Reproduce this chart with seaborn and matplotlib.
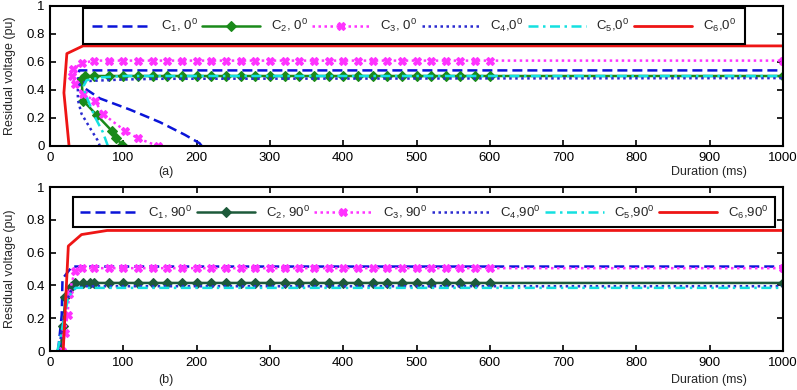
import matplotlib.pyplot as plt
import matplotlib.ticker as mticker
import seaborn as sns

# ---- data (duration in ms, residual voltage in pu) ----
grid = [60, 80, 100, 120, 140, 160, 180, 200, 220, 240, 260, 280, 300, 320,
        340, 360, 380, 400, 420, 440, 460, 480, 500, 520, 540, 560, 580, 600]

# (a) point-on-wave 0 deg
c1_0_x = [207, 204, 184, 150, 109, 68, 48, 40, 38, 40, 1000]
c1_0_y = [0.0, 0.02, 0.08, 0.17, 0.26, 0.34, 0.41, 0.445, 0.50, 0.54, 0.54]

c2_0_x = [98, 90, 84, 64, 45, 43, 48] + grid + [1000]
c2_0_y = [0.01, 0.06, 0.11, 0.22, 0.325, 0.48, 0.50,
          0.50, 0.50, 0.50, 0.50, 0.50, 0.50, 0.50, 0.50, 0.50, 0.50,
          0.50, 0.50, 0.50, 0.50, 0.50, 0.50, 0.50, 0.50, 0.50, 0.50,
          0.50, 0.50, 0.50, 0.50, 0.50, 0.50, 0.50, 0.50, 0.50]

c3_0_x = [147, 120, 102, 72, 61, 45, 34, 30, 32, 43] + grid + [1000]
c3_0_y = [0.0, 0.055, 0.11, 0.23, 0.325, 0.37, 0.445, 0.50, 0.55, 0.59,
          0.61, 0.61, 0.61, 0.61, 0.61, 0.61, 0.61, 0.61, 0.61, 0.61,
          0.61, 0.61, 0.61, 0.61, 0.61, 0.61, 0.61, 0.61, 0.61, 0.61,
          0.61, 0.61, 0.61, 0.61, 0.61, 0.61, 0.61, 0.61, 0.61]

c4_0_x = [68, 65, 55, 43, 38, 38, 42, 55, 100, 150, 1000]
c4_0_y = [0.0, 0.04, 0.125, 0.23, 0.33, 0.42, 0.45, 0.465, 0.475, 0.48, 0.485]

c5_0_x = [79, 72, 61, 48, 46, 50, 70, 100, 1000]
c5_0_y = [0.0, 0.10, 0.21, 0.375, 0.43, 0.47, 0.49, 0.50, 0.50]

c6_0_x = [26, 19, 23, 45, 1000]
c6_0_y = [0.0, 0.38, 0.66, 0.715, 0.715]

# (b) point-on-wave 90 deg
c1_90_x = [11, 16, 17, 18, 30, 1000]
c1_90_y = [0.0, 0.22, 0.43, 0.445, 0.515, 0.515]

c2_90_x = [14, 18, 21, 28, 34, 45, 55] + grid + [1000]
c2_90_y = [0.0, 0.15, 0.33, 0.39, 0.415, 0.415, 0.415,
           0.415, 0.415, 0.415, 0.415, 0.415, 0.415, 0.415, 0.415, 0.415, 0.415,
           0.415, 0.415, 0.415, 0.415, 0.415, 0.415, 0.415, 0.415, 0.415, 0.415,
           0.415, 0.415, 0.415, 0.415, 0.415, 0.415, 0.415, 0.415, 0.415]

c3_90_x = [17, 20, 24, 26, 34, 44] + grid + [1000]
c3_90_y = [0.0, 0.11, 0.22, 0.35, 0.49, 0.505,
           0.505, 0.505, 0.505, 0.505, 0.505, 0.505, 0.505, 0.505, 0.505, 0.505,
           0.505, 0.505, 0.505, 0.505, 0.505, 0.505, 0.505, 0.505, 0.505, 0.505,
           0.505, 0.505, 0.505, 0.505, 0.505, 0.505, 0.505, 0.505, 0.505]

c4_90_x = [12, 16, 22, 30, 50, 1000]
c4_90_y = [0.0, 0.12, 0.30, 0.38, 0.395, 0.395]

c5_90_x = [10, 15, 25, 35, 1000]
c5_90_y = [0.0, 0.10, 0.33, 0.385, 0.385]

c6_90_x = [18, 25, 43, 78, 1000]
c6_90_y = [0.0, 0.64, 0.71, 0.735, 0.735]

x_ticks = [0, 100, 200, 300, 400, 500, 600, 700, 800, 900, 1000]
y_ticks = [0, 0.2, 0.4, 0.6, 0.8, 1.0]

# ---- style ----
sns.set_style("ticks")
plt.rcParams["font.family"] = ["Liberation Sans", "DejaVu Sans"]
plt.rcParams["mathtext.fontset"] = "custom"
plt.rcParams["mathtext.rm"] = "Liberation Sans"

BLUE = "#0a14d8"
GREEN0 = "#1a8a1a"
GREEN90 = "#1d5a3a"
MAGENTA = "#ff33ff"
NAVY = "#2a2ad0"
CYAN = "#14e0e0"
RED = "#ee1515"


def lab(i, ang, space=True):
    sep = ", " if space else ","
    return r"C$_\mathregular{%d}$%s%s$^\mathregular{0}$" % (i, sep, ang)


def draw(ax, xs, ys, label, color, ls, lw=1.8, marker=None, ms=5):
    kw = dict(marker=marker, markersize=ms, mec=color, mfc=color, mew=0.8) if marker else {}
    sns.lineplot(x=xs, y=ys, ax=ax, sort=False, estimator=None, color=color,
                 linestyle=ls, lw=lw, label=label, **kw)


fig = plt.figure(figsize=(7.97, 3.9), dpi=100)
W, H = 797, 390
ax_a = fig.add_axes([50 / W, 1 - 146 / H, 733 / W, 140 / H])
ax_b = fig.add_axes([50 / W, 1 - 351 / H, 733 / W, 164 / H])

dash = (0, (4, 2))
dot = (0, (1, 1.4))
dashdot = (0, (4, 1.8, 1, 1.8))

series = [
    (ax_a, "0", GREEN0, [c1_0_x, c2_0_x, c3_0_x, c4_0_x, c5_0_x, c6_0_x],
     [c1_0_y, c2_0_y, c3_0_y, c4_0_y, c5_0_y, c6_0_y]),
    (ax_b, "90", GREEN90, [c1_90_x, c2_90_x, c3_90_x, c4_90_x, c5_90_x, c6_90_x],
     [c1_90_y, c2_90_y, c3_90_y, c4_90_y, c5_90_y, c6_90_y]),
]

for ax, ang, green, xs, ys in series:
    draw(ax, xs[0], ys[0], lab(1, ang), BLUE, dash)
    draw(ax, xs[1], ys[1], lab(2, ang), green, "-", marker="D", ms=4.8)
    draw(ax, xs[2], ys[2], lab(3, ang), MAGENTA, dot, marker="X", ms=5.5)
    draw(ax, xs[3], ys[3], lab(4, ang, False), NAVY, dot)
    draw(ax, xs[4], ys[4], lab(5, ang, False), CYAN, dashdot)
    draw(ax, xs[5], ys[5], lab(6, ang, False), RED, "-", lw=2.0)

    ax.set_xlim(0, 1000)
    ax.set_ylim(0, 1)
    ax.set_xticks(x_ticks)
    ax.set_yticks(y_ticks)
    ax.yaxis.set_major_formatter(mticker.FormatStrFormatter("%g"))
    ax.tick_params(direction="in", top=True, right=True, length=4.5, width=1.2,
                   labelsize=9.5, pad=4, colors="black")
    for sp in ax.spines.values():
        sp.set_linewidth(1.5)
        sp.set_color("black")
    ax.set_xlabel("")
    ax.set_ylabel("Residual voltage (pu)", fontsize=9)
    ax.yaxis.set_label_coords(-34 / 733, 0.5)

h, l = ax_a.get_legend_handles_labels()
leg = ax_a.legend(h, l, loc="upper left", bbox_to_anchor=(33 / 733, 0.986, 662 / 733, 0.0),
                  mode="expand", ncol=6, frameon=True, fancybox=False, framealpha=1,
                  edgecolor="black", handlelength=4.4, fontsize=9.5, borderaxespad=0,
                  borderpad=0.7, handletextpad=0.8, columnspacing=1.0)
leg.get_frame().set_linewidth(1.5)

h, l = ax_b.get_legend_handles_labels()
leg = ax_b.legend(h, l, loc="upper left", bbox_to_anchor=(23 / 733, 154 / 164, 702 / 733, 0.0),
                  mode="expand", ncol=6, frameon=True, fancybox=False, framealpha=1,
                  edgecolor="black", handlelength=4.4, fontsize=9.5, borderaxespad=0,
                  borderpad=0.5, handletextpad=0.8, columnspacing=1.0)
leg.get_frame().set_linewidth(1.5)

fig.text(166 / W, 1 - 172 / H, "(a)", ha="center", va="center", fontsize=9)
fig.text(709 / W, 1 - 172 / H, "Duration (ms)", ha="center", va="center", fontsize=9)
fig.text(166 / W, 1 - 380 / H, "(b)", ha="center", va="center", fontsize=9)
fig.text(709 / W, 1 - 380 / H, "Duration (ms)", ha="center", va="center", fontsize=9)

fig.savefig("out.png", dpi=100)
